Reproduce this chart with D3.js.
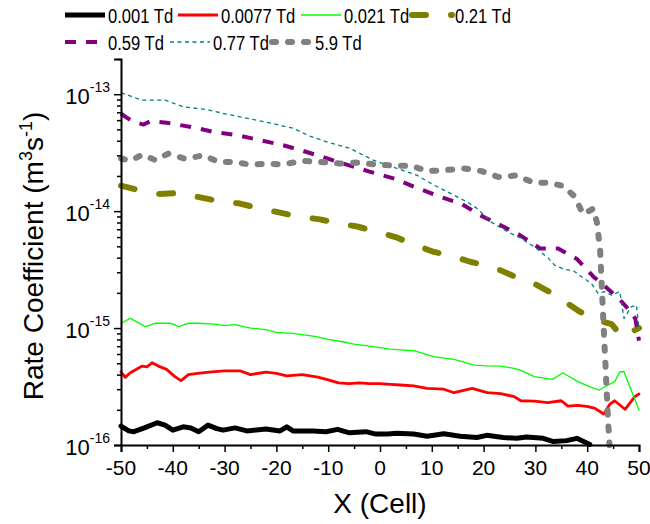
<!DOCTYPE html>
<html><head><meta charset="utf-8">
<script src="https://cdn.jsdelivr.net/npm/d3@7"></script>
<style>
html,body{margin:0;padding:0;background:#fff;}
svg{display:block;font-family:Arial,"Liberation Sans",sans-serif;}
</style></head><body>
<svg id="chart" width="650" height="524"></svg>
<script>
// Rate coefficient along the cell axis, one profile per reduced field.
const fieldLabels = ["0.001 Td", "0.0077 Td", "0.021 Td", "0.21 Td", "0.59 Td", "0.77 Td", "5.9 Td"];

// [cell, rate coefficient (m^3 s^-1)]
const k0001 = [[-50,1.45e-16],[-48.5,1.32e-16],[-47.5,1.30e-16],[-45.5,1.40e-16],[-43,1.55e-16],[-41.5,1.48e-16],[-40,1.34e-16],[-38,1.43e-16],[-36.5,1.40e-16],[-35,1.30e-16],[-33.2,1.48e-16],[-31.5,1.38e-16],[-30.3,1.34e-16],[-28,1.40e-16],[-25.7,1.32e-16],[-22,1.37e-16],[-19.3,1.32e-16],[-18,1.43e-16],[-16.8,1.32e-16],[-13,1.32e-16],[-10.4,1.30e-16],[-8.2,1.36e-16],[-5.9,1.27e-16],[-2.7,1.30e-16],[-0.8,1.24e-16],[1.5,1.24e-16],[3.2,1.26e-16],[6.5,1.24e-16],[9.1,1.19e-16],[12.3,1.25e-16],[15.5,1.19e-16],[18.7,1.16e-16],[20.6,1.21e-16],[23.8,1.16e-16],[26.4,1.14e-16],[28.3,1.17e-16],[31.5,1.14e-16],[33.5,1.07e-16],[36,1.09e-16],[38,1.14e-16],[40.5,1.01e-16]];

const k0077 = [[-50,4.23e-16],[-49.2,3.79e-16],[-48.2,4.15e-16],[-45.9,4.73e-16],[-45,4.65e-16],[-44,5.05e-16],[-42.8,4.73e-16],[-41.2,4.43e-16],[-39.6,3.84e-16],[-38.4,3.55e-16],[-37,4.0e-16],[-35.2,4.1e-16],[-33,4.2e-16],[-30,4.3e-16],[-27,4.3e-16],[-25,4.0e-16],[-22,4.2e-16],[-20,4.1e-16],[-18,3.9e-16],[-15,4.0e-16],[-12,3.8e-16],[-10,3.6e-16],[-8,3.4e-16],[-6,3.35e-16],[-4,3.4e-16],[-2,3.35e-16],[0,3.35e-16],[2,3.3e-16],[3.9,3.26e-16],[6.5,3.2e-16],[9.1,3.05e-16],[12.3,3.0e-16],[14.3,2.8e-16],[17.8,3.05e-16],[20.7,2.8e-16],[23.3,2.75e-16],[25.9,2.59e-16],[27.2,2.39e-16],[29.8,2.37e-16],[32.4,2.30e-16],[35,2.39e-16],[36.3,2.15e-16],[38.2,2.18e-16],[40.2,2.13e-16],[41.5,2.06e-16],[43.2,1.84e-16],[44.4,2.24e-16],[45.3,2.39e-16],[47.3,2.02e-16],[49.2,2.59e-16],[50,2.73e-16]];

const k021 = [[-50,1.10e-15],[-48.2,1.21e-15],[-45.3,1.03e-15],[-43.3,1.10e-15],[-40.5,1.10e-15],[-38.8,1.03e-15],[-37,1.10e-15],[-35,1.10e-15],[-32,1.08e-15],[-30,1.05e-15],[-28,1.07e-15],[-25,1.0e-15],[-22,9.7e-16],[-20,9.2e-16],[-17,9.0e-16],[-15,8.8e-16],[-12,8.4e-16],[-10,8.0e-16],[-7,7.6e-16],[-5,7.3e-16],[-2,7.0e-16],[0,6.8e-16],[2,6.6e-16],[3.9,6.5e-16],[6.5,6.4e-16],[10.4,5.7e-16],[14.3,5.4e-16],[18.2,4.83e-16],[20.7,4.75e-16],[23.3,4.72e-16],[25.9,4.52e-16],[27.2,4.35e-16],[29.8,3.84e-16],[33.3,3.64e-16],[35.3,4.15e-16],[38.2,3.48e-16],[40.8,3.11e-16],[42.4,2.95e-16],[43.4,3.15e-16],[45.3,3.48e-16],[46.3,4.23e-16],[47.1,4.23e-16],[50,1.99e-16]];

const k021Td = [[-50,1.65e-14],[-46.3,1.50e-14],[-42.5,1.40e-14],[-38.6,1.43e-14],[-34.7,1.31e-14],[-31.2,1.22e-14],[-27,1.16e-14],[-23.8,1.07e-14],[-19.3,9.7e-15],[-16.1,9.06e-15],[-11.6,8.5e-15],[-8.4,7.95e-15],[-4.2,7.35e-15],[-0.6,6.65e-15],[3,6.0e-15],[6.5,5.2e-15],[10.3,4.49e-15],[13.5,4.2e-15],[17.4,3.69e-15],[20.3,3.45e-15],[23.2,3.13e-15],[26.4,2.71e-15],[29.9,2.38e-15],[33.1,2.0e-15],[36.4,1.6e-15],[38.6,1.38e-15],[41.8,1.17e-15],[44.7,1.08e-15],[46.9,8.3e-16],[49.2,9.6e-16],[50,1.0e-15]];

const k059 = [[-50,6.8e-14],[-47.9,5.9e-14],[-45.7,5.5e-14],[-44.2,5.9e-14],[-41.2,5.7e-14],[-36,5.2e-14],[-32.2,4.76e-14],[-27.7,4.47e-14],[-23.2,4.05e-14],[-18.7,3.66e-14],[-15.1,3.3e-14],[-11,2.9e-14],[-7.1,2.55e-14],[-1.9,2.17e-14],[3.2,1.87e-14],[7.1,1.58e-14],[11.6,1.33e-14],[15.8,1.15e-14],[19.3,9.25e-15],[23.2,7.6e-15],[27,6.24e-15],[30.9,4.8e-15],[34.4,4.8e-15],[38,3.9e-15],[41.2,2.75e-15],[43.2,2.33e-15],[46.4,1.73e-15],[48.4,1.38e-15],[49.3,1.2e-15],[50,7.8e-16]];

const k077 = [[-50,1.03e-13],[-46,8.9e-14],[-41.5,8.9e-14],[-38,7.8e-14],[-33.5,7.4e-14],[-29.6,6.75e-14],[-24.5,6.08e-14],[-20.6,5.6e-14],[-16.7,5.1e-14],[-13.5,4.37e-14],[-9.7,3.84e-14],[-5.8,3.44e-14],[-1.3,2.73e-14],[3.9,2.27e-14],[7.1,2.03e-14],[10.4,1.67e-14],[13.6,1.42e-14],[16.8,1.2e-14],[18.8,1.05e-14],[21.4,8.1e-15],[24,6.9e-15],[27.2,5.85e-15],[29.8,4.95e-15],[32.4,4.0e-15],[33.7,3.45e-15],[35.7,3.17e-15],[37.3,3.1e-15],[38.9,2.75e-15],[40.8,2.41e-15],[42.1,1.98e-15],[43.4,2.05e-15],[44.7,1.91e-15],[46.3,2.05e-15],[47.1,1.21e-15],[48.5,1.52e-15],[49.5,1.57e-15],[50,1.0e-15]];

const k59 = [[-50,2.82e-14],[-48.2,2.70e-14],[-45.8,3.05e-14],[-43.3,2.72e-14],[-40.9,3.10e-14],[-37.6,2.80e-14],[-34.1,3.0e-14],[-31,2.62e-14],[-28.3,2.64e-14],[-25.1,2.50e-14],[-21.2,2.55e-14],[-19,2.50e-14],[-14.8,2.69e-14],[-10.9,2.62e-14],[-7.7,2.55e-14],[-4.5,2.6e-14],[-0.6,2.5e-14],[3.2,2.45e-14],[6.1,2.43e-14],[9.3,2.2e-14],[12.5,2.24e-14],[16.1,2.32e-14],[19.6,2.2e-14],[22.8,1.96e-14],[26.4,2.02e-14],[29.6,1.75e-14],[32.5,1.75e-14],[35.4,1.64e-14],[37.6,1.33e-14],[39.2,9.4e-15],[41.2,1.05e-14],[41.9,7.9e-15],[42.5,4.6e-15],[43.0,1.49e-15],[43.5,5.1e-16],[44.0,1.74e-16],[44.3,1.0e-16]];

const profiles = [k0001, k0077, k021, k021Td, k059, k077, k59];

const xTickValues = d3.range(-50, 51, 5);
const xTickLabels = ["-50", "-40", "-30", "-20", "-10", "0", "10", "20", "30", "40", "50"];
const yDecades = [1e-16, 1e-15, 1e-14, 1e-13];
const yDecadeExponents = ["-16", "-15", "-14", "-13"];
const xTitle = "X (Cell)";

// stroke style per profile
const styles = [
  {color: "#000000", width: 5,   dash: null,     cap: "round"},
  {color: "#ff0000", width: 2.8, dash: null,     cap: "round"},
  {color: "#00ff00", width: 1.3, dash: null,     cap: "round"},
  {color: "#808000", width: 6,   dash: "14,25",  cap: "round"},
  {color: "#800080", width: 4,   dash: "11,10",  cap: "butt"},
  {color: "#008080", width: 1.3, dash: "4,3.5",  cap: "butt"},
  {color: "#808080", width: 6,   dash: "4,12",   cap: "round"}
];

const svg = d3.select("#chart");
const plot = {left: 121, right: 639, top: 59, bottom: 445};

const x = d3.scaleLinear().domain([-50, 50]).range([plot.left, plot.right]);
const y = d3.scaleLog().domain([1e-16, 2e-13]).range([plot.bottom, plot.top]);

// log ticks: every integer multiple inside each decade
const yTicks = [];
yDecades.forEach(d => { for (let m = 1; m <= 9; m++) { const v = d * m; if (v <= 2.0001e-13) yTicks.push(v); } });
const isDecade = v => yDecades.some(d => Math.abs(v - d) / d < 1e-6);

// series
const line = d3.line().x(d => x(d[0])).y(d => y(d[1]));
const gLines = svg.append("g");
profiles.forEach((p, i) => {
  const s = styles[i];
  gLines.append("path").datum(p)
    .attr("d", line)
    .attr("fill", "none")
    .attr("stroke", s.color)
    .attr("stroke-width", s.width)
    .attr("stroke-linejoin", "round")
    .attr("stroke-linecap", s.cap)
    .attr("stroke-dasharray", s.dash);
});

// x axis
const xAxis = svg.append("g").attr("transform", `translate(0,${plot.bottom})`)
  .call(d3.axisBottom(x).tickValues(xTickValues).tickSizeOuter(0).tickSize(7).tickFormat(""));
xAxis.select(".domain").attr("stroke-width", 2);
xAxis.selectAll(".tick line").attr("stroke-width", 1.5).attr("y2", d => d % 10 === 0 ? 7 : 4);
xAxis.selectAll(".tick text").remove();
svg.append("g").selectAll("text").data(xTickValues.filter(v => v % 10 === 0)).join("text")
  .attr("x", d => x(d)).attr("y", plot.bottom + 30)
  .attr("text-anchor", "middle").attr("font-size", 21).attr("fill", "#000")
  .text((d, i) => xTickLabels[i]);

// y axis
const yAxis = svg.append("g").attr("transform", `translate(${plot.left},0)`)
  .call(d3.axisLeft(y).tickValues(yTicks).tickSizeOuter(0).tickSize(7).tickFormat(""));
yAxis.select(".domain").attr("stroke-width", 2);
yAxis.selectAll(".tick line").attr("stroke-width", 1.5).attr("x2", d => isDecade(d) ? -7 : -4);
yAxis.selectAll(".tick text").remove();
const yl = svg.append("g").selectAll("text").data(yDecades).join("text")
  .attr("x", plot.left - 11).attr("y", d => y(d) + 10)
  .attr("text-anchor", "end").attr("fill", "#000");
yl.append("tspan").attr("font-size", 22).text("10");
yl.append("tspan").attr("font-size", 14).attr("dy", -12).text((d, i) => yDecadeExponents[i]);

// axis titles
svg.append("text").attr("x", (plot.left + plot.right) / 2).attr("y", 513)
  .attr("text-anchor", "middle").attr("font-size", 28).text(xTitle);
const yt = svg.append("text").attr("transform", `translate(43,${(plot.top + plot.bottom) / 2 + 4}) rotate(-90)`)
  .attr("text-anchor", "middle").attr("font-size", 28);
yt.append("tspan").text("Rate Coefficient (m");
yt.append("tspan").attr("font-size", 18).attr("dy", -11).text("3");
yt.append("tspan").attr("dy", 11).text("s");
yt.append("tspan").attr("font-size", 18).attr("dy", -11).text("-1");
yt.append("tspan").attr("dy", 11).text(")");

// legend, two rows
const legendPos = [[65, 15], [178, 15], [301, 15], [412, 15], [65, 42], [170, 42], [272, 42]];
const gLeg = svg.append("g");
fieldLabels.forEach((lab, i) => {
  const [lx, ly] = legendPos[i];
  const s = styles[i];
  gLeg.append("line").attr("x1", lx).attr("x2", lx + 40).attr("y1", ly).attr("y2", ly)
    .attr("stroke", s.color).attr("stroke-width", s.width)
    .attr("stroke-linecap", s.cap === "round" && s.dash ? "round" : "butt")
    .attr("stroke-dasharray", s.dash);
  gLeg.append("text").attr("transform", `translate(${lx + 43},${ly + 8}) scale(0.79,1)`)
    .attr("font-size", 21).attr("fill", "#000").text(lab);
});
</script>
</body></html>
